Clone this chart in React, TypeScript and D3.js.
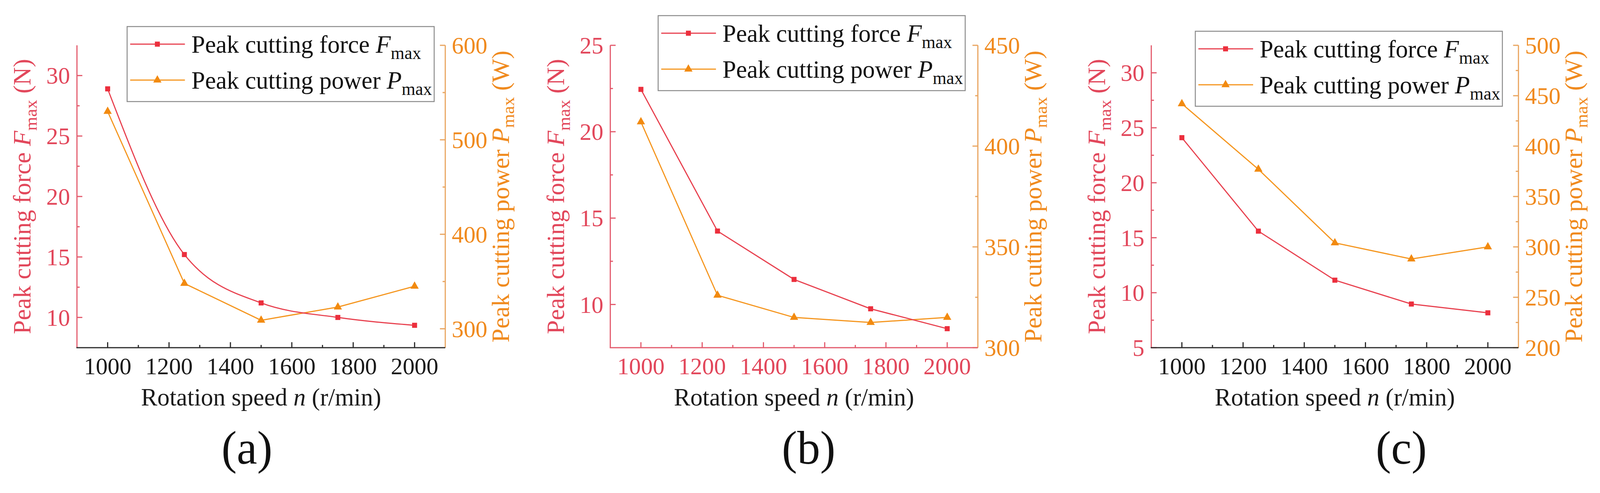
import React, { useEffect } from 'react';
import * as d3 from 'd3';

// ---- data ----
const speeds = [1000, 1250, 1500, 1750, 2000];

const forceA = [28.9, 15.2, 11.2, 10.0, 9.35];
const powerA = [530, 348, 309, 323, 345];

const forceB = [22.45, 14.25, 11.45, 9.75, 8.6];
const powerB = [412, 326, 315, 312.5, 315];

const forceC = [24.1, 15.6, 11.14, 8.97, 8.17];
const powerC = [442, 377, 304, 288, 300];

const xTicks = [1000, 1200, 1400, 1600, 1800, 2000];
const xMinorTicks = [1100, 1300, 1500, 1700, 1900];

const forceTicksA = [10, 15, 20, 25, 30];
const forceMinorA = [12.5, 17.5, 22.5, 27.5];
const powerTicksA = [300, 400, 500, 600];
const powerMinorA = [350, 450, 550];

const forceTicksB = [10, 15, 20, 25];
const forceMinorB = [12.5, 17.5, 22.5];
const powerTicksB = [300, 350, 400, 450];
const powerMinorB = [325, 375, 425];

const forceTicksC = [5, 10, 15, 20, 25, 30];
const forceMinorC = [7.5, 12.5, 17.5, 22.5, 27.5];
const powerTicksC = [200, 250, 300, 350, 400, 450, 500];
const powerMinorC = [225, 275, 325, 375, 425, 475];

const xDomain = [900, 2100];
const forceDomainA = [7.5, 32.5];
const powerDomainA = [280, 600];
const forceDomainB = [7.5, 25];
const powerDomainB = [300, 450];
const forceDomainC = [5, 32.5];
const powerDomainC = [200, 500];

const panelLabels = ['(a)', '(b)', '(c)'];
const legendForce = 'Peak cutting force ';
const legendPower = 'Peak cutting power ';
const xTitle = 'Rotation speed ';

// ---- styles ----
const FONT = '"Liberation Serif", "Times New Roman", serif';
const RED_LINE = '#e8414f';
const RED_MARK = '#ec2f3d';
const RED_AXIS = '#e35a6c';
const RED_TEXT = '#e2475b';
const OR_LINE = '#f5961f';
const OR_MARK = '#f28a10';
const OR_AXIS = '#e9a45e';
const OR_TEXT = '#f08a1e';
const BLACK_AXIS = '#2a2a2a';

const W = 4179;
const H = 1262;

type PanelProps = {
  left: number;
  right: number;
  top: number;
  bottom: number;
  force: number[];
  power: number[];
  forceDomain: number[];
  powerDomain: number[];
  forceTicks: number[];
  forceMinor: number[];
  powerTicks: number[];
  powerMinor: number[];
  smoothForce: boolean;
  bottomColor: string;
  bottomText: string;
  legendX: number;
  legendY: number;
  label: string;
  labelX: number;
};

function Square({ x, y, s, fill }: { x: number; y: number; s: number; fill: string }) {
  return <rect x={x - s / 2} y={y - s / 2} width={s} height={s} fill={fill} />;
}

function Triangle({ x, y, s, fill }: { x: number; y: number; s: number; fill: string }) {
  const sym = d3.symbol().type(d3.symbolTriangle).size(s * s * 0.9)();
  return <path d={sym || ''} transform={`translate(${x},${y})`} fill={fill} />;
}

function Panel(p: PanelProps) {
  const x = d3.scaleLinear().domain(xDomain).range([p.left, p.right]);
  const yF = d3.scaleLinear().domain(p.forceDomain).range([p.bottom, p.top]);
  const yP = d3.scaleLinear().domain(p.powerDomain).range([p.bottom, p.top]);

  const fLine = d3
    .line<number>()
    .x((_, i) => x(speeds[i]))
    .y((d) => yF(d))
    .curve(p.smoothForce ? d3.curveMonotoneX : d3.curveLinear);
  const pLine = d3
    .line<number>()
    .x((_, i) => x(speeds[i]))
    .y((d) => yP(d));

  const TICK = 14;
  const MINOR = 7;
  const cy = (p.top + p.bottom) / 2;
  const cx = (p.left + p.right) / 2;

  const lgW = 802;
  const lgH = 192;
  const row1 = p.legendY + 45;
  const row2 = p.legendY + 137;

  return (
    <g>
      {/* data lines */}
      <path d={pLine(p.power) || ''} fill="none" stroke={OR_LINE} strokeWidth={3} />
      <path d={fLine(p.force) || ''} fill="none" stroke={RED_LINE} strokeWidth={3} />
      {p.power.map((v, i) => (
        <Triangle key={'pt' + i} x={x(speeds[i])} y={yP(v)} s={15} fill={OR_MARK} />
      ))}
      {p.force.map((v, i) => (
        <Square key={'fs' + i} x={x(speeds[i])} y={yF(v)} s={13} fill={RED_MARK} />
      ))}

      {/* left axis */}
      <line x1={p.left} x2={p.left} y1={p.top} y2={p.bottom} stroke={RED_AXIS} strokeWidth={3} />
      {p.forceTicks.map((t) => (
        <g key={'lf' + t}>
          <line x1={p.left} x2={p.left + TICK} y1={yF(t)} y2={yF(t)} stroke={RED_AXIS} strokeWidth={3} />
          <text
            x={p.left - 18}
            y={yF(t)}
            dy="0.34em"
            textAnchor="end"
            fontFamily={FONT}
            fontSize={62}
            fill={RED_TEXT}
          >
            {t}
          </text>
        </g>
      ))}
      {p.forceMinor.map((t) => (
        <line key={'lm' + t} x1={p.left} x2={p.left + MINOR} y1={yF(t)} y2={yF(t)} stroke={RED_AXIS} strokeWidth={3} />
      ))}
      <text
        transform={`translate(${p.left - 121},${cy}) rotate(-90)`}
        textAnchor="middle"
        fontFamily={FONT}
        fontSize={64}
        fill={RED_TEXT}
      >
        {legendForce}
        <tspan fontStyle="italic">F</tspan>
        <tspan fontSize={46} dy={16}>max</tspan>
        <tspan dy={-16}> (N)</tspan>
      </text>

      {/* right axis */}
      <line x1={p.right} x2={p.right} y1={p.top} y2={p.bottom} stroke={OR_AXIS} strokeWidth={3} />
      {p.powerTicks.map((t) => (
        <g key={'rp' + t}>
          <line x1={p.right} x2={p.right - TICK} y1={yP(t)} y2={yP(t)} stroke={OR_AXIS} strokeWidth={3} />
          <text
            x={p.right + 17}
            y={yP(t)}
            dy="0.34em"
            textAnchor="start"
            fontFamily={FONT}
            fontSize={62}
            fill={OR_TEXT}
          >
            {t}
          </text>
        </g>
      ))}
      {p.powerMinor.map((t) => (
        <line key={'rm' + t} x1={p.right} x2={p.right - MINOR} y1={yP(t)} y2={yP(t)} stroke={OR_AXIS} strokeWidth={3} />
      ))}
      <text
        transform={`translate(${p.right + 166},${cy}) rotate(-90)`}
        textAnchor="middle"
        fontFamily={FONT}
        fontSize={64}
        fill={OR_TEXT}
      >
        {legendPower}
        <tspan fontStyle="italic">P</tspan>
        <tspan fontSize={46} dy={14}>max</tspan>
        <tspan dy={-14}> (W)</tspan>
      </text>

      {/* bottom axis */}
      <line x1={p.left - 1.5} x2={p.right} y1={p.bottom} y2={p.bottom} stroke={p.bottomColor} strokeWidth={3} />
      {xTicks.map((t) => (
        <g key={'xt' + t}>
          <line x1={x(t)} x2={x(t)} y1={p.bottom} y2={p.bottom - TICK} stroke={p.bottomColor} strokeWidth={3} />
          <text x={x(t)} y={958} textAnchor="middle" fontFamily={FONT} fontSize={62} fill={p.bottomText}>
            {t}
          </text>
        </g>
      ))}
      {xMinorTicks.map((t) => (
        <line key={'xm' + t} x1={x(t)} x2={x(t)} y1={p.bottom} y2={p.bottom - MINOR} stroke={p.bottomColor} strokeWidth={3} />
      ))}
      <text x={cx} y={1038} textAnchor="middle" fontFamily={FONT} fontSize={64} fill="#1a1a1a">
        {xTitle}
        <tspan fontStyle="italic">n</tspan> (r/min)
      </text>

      {/* legend */}
      <rect x={p.legendX} y={p.legendY} width={lgW} height={lgH} fill="white" stroke="#8a8a8a" strokeWidth={2.5} />
      <line x1={p.legendX + 8} x2={p.legendX + 151} y1={row1} y2={row1} stroke={RED_LINE} strokeWidth={3} />
      <Square x={p.legendX + 79} y={row1} s={13} fill={RED_MARK} />
      <text x={p.legendX + 168} y={row1 + 22} fontFamily={FONT} fontSize={64} fill="#111">
        {legendForce}
        <tspan fontStyle="italic">F</tspan>
        <tspan fontSize={46} dy={16}>max</tspan>
      </text>
      <line x1={p.legendX + 8} x2={p.legendX + 151} y1={row2} y2={row2} stroke={OR_LINE} strokeWidth={3} />
      <Triangle x={p.legendX + 79} y={row2} s={15} fill={OR_MARK} />
      <text x={p.legendX + 168} y={row2 + 22} fontFamily={FONT} fontSize={64} fill="#111">
        {legendPower}
        <tspan fontStyle="italic">P</tspan>
        <tspan fontSize={46} dy={16}>max</tspan>
      </text>

      {/* panel label */}
      <text x={p.labelX} y={1187} textAnchor="middle" fontFamily={FONT} fontSize={120} fill="#111">
        {p.label}
      </text>
    </g>
  );
}

export default function App() {
  useEffect(() => {
    document.body.style.margin = '0';
    document.body.style.overflow = 'hidden';
    document.documentElement.style.overflow = 'hidden';
  }, []);
  const top = 116;
  const bottom = 890;
  return (
    <svg
      viewBox={`0 0 ${W} ${H}`}
      preserveAspectRatio="none"
      style={{
        position: 'fixed',
        left: 0,
        top: 0,
        width: '100vw',
        height: '100vh',
        display: 'block',
        background: 'white',
      }}
    >
      <rect x={0} y={0} width={W} height={H} fill="white" />
      <Panel
        left={201}
        right={1163}
        top={top}
        bottom={bottom}
        force={forceA}
        power={powerA}
        forceDomain={forceDomainA}
        powerDomain={powerDomainA}
        forceTicks={forceTicksA}
        forceMinor={forceMinorA}
        powerTicks={powerTicksA}
        powerMinor={powerMinorA}
        smoothForce={true}
        bottomColor={BLACK_AXIS}
        bottomText="#1a1a1a"
        legendX={332}
        legendY={68}
        label={panelLabels[0]}
        labelX={645}
      />
      <Panel
        left={1594}
        right={2554}
        top={top}
        bottom={bottom}
        force={forceB}
        power={powerB}
        forceDomain={forceDomainB}
        powerDomain={powerDomainB}
        forceTicks={forceTicksB}
        forceMinor={forceMinorB}
        powerTicks={powerTicksB}
        powerMinor={powerMinorB}
        smoothForce={false}
        bottomColor={RED_AXIS}
        bottomText={RED_TEXT}
        legendX={1719}
        legendY={40}
        label={panelLabels[1]}
        labelX={2112}
      />
      <Panel
        left={3007}
        right={3966}
        top={top}
        bottom={bottom}
        force={forceC}
        power={powerC}
        forceDomain={forceDomainC}
        powerDomain={powerDomainC}
        forceTicks={forceTicksC}
        forceMinor={forceMinorC}
        powerTicks={powerTicksC}
        powerMinor={powerMinorC}
        smoothForce={false}
        bottomColor={BLACK_AXIS}
        bottomText="#1a1a1a"
        legendX={3122}
        legendY={80}
        label={panelLabels[2]}
        labelX={3660}
      />
    </svg>
  );
}
